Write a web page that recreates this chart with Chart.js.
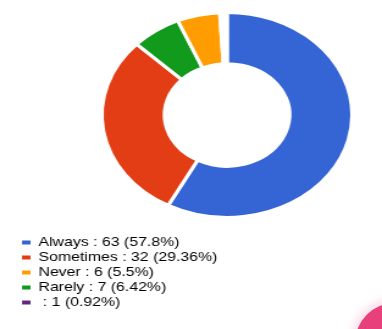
<!DOCTYPE html>
<html>
<head>
<meta charset="utf-8">
<script src="https://cdn.jsdelivr.net/npm/chart.js@4"></script>
<style>
  html, body { margin: 0; padding: 0; background: #fff; overflow: hidden; }
  #wrap { position: absolute; left: 0; top: 0; transform: scaleX(1.2204); transform-origin: 0 0; }
  #blob { position: absolute; left: 355px; top: 303px; width: 80px; height: 80px; border-radius: 50%;
          background: #e8407a; box-shadow: 0 0 10px 4px rgba(240, 150, 190, 0.35); }
</style>
</head>
<body>
<div id="wrap"><canvas id="pie" width="313" height="329"></canvas></div>
<div id="blob"></div>
<script>
// answers, in the order the slices run clockwise from 12 o'clock
const categories = ['Always', 'Sometimes', 'Rarely', 'Never', ''];
const counts = [63, 32, 7, 6, 1];
// order the legend lists them in
const legendOrder = ['Always', 'Sometimes', 'Never', 'Rarely', ''];

const sliceColors = ['#3565d4', '#e33d15', '#129a1c', '#ff9c00', '#ffffff'];
const legendColors = ['#3565d4', '#e33d15', '#129a1c', '#ff9c00', '#5e2a82'];

const total = counts.reduce((a, b) => a + b, 0);
const pct = v => parseFloat((v / total * 100).toFixed(2));

// put the ring where it sits in the picture, legend stays bottom-left
const plotBox = {
    id: 'plotBox',
    afterLayout(chart, args, opts) {
        const a = chart.chartArea;
        a.left = opts.left;
        a.top = opts.top;
        a.right = opts.right;
        a.bottom = opts.bottom;
        a.width = opts.right - opts.left;
        a.height = opts.bottom - opts.top;
    }
};

document.addEventListener('DOMContentLoaded', function() {
    const ctx = document.getElementById('pie');

    new Chart(ctx, {
        type: 'doughnut',
        data: {
            labels: categories,
            datasets: [{
                data: counts,
                backgroundColor: sliceColors,
                borderColor: '#ffffff',
                borderWidth: 3
            }]
        },
        options: {
            responsive: false,
            animation: false,
            cutout: '50%',
            layout: { padding: { left: 16, bottom: 18 } },
            plugins: {
                plotBox: { left: 82, top: 11, right: 290, bottom: 219 },
                tooltip: { enabled: false },
                legend: {
                    position: 'chartArea',
                    align: 'end',
                    labels: {
                        font: { family: "'Liberation Sans', Arial, sans-serif", size: 13 },
                        color: '#3c3c3c',
                        boxWidth: 7,
                        boxHeight: 4,
                        padding: 2,
                        generateLabels: function(chart) {
                            return categories.map((c, i) => ({
                                text: c + ' : ' + counts[i] + ' (' + pct(counts[i]) + '%)',
                                fillStyle: legendColors[i],
                                strokeStyle: legendColors[i],
                                lineWidth: 0,
                                hidden: false,
                                index: i
                            }));
                        },
                        sort: (a, b) => legendOrder.indexOf(categories[a.index]) - legendOrder.indexOf(categories[b.index])
                    }
                }
            }
        },
        plugins: [plotBox]
    });
});
</script>
</body>
</html>
